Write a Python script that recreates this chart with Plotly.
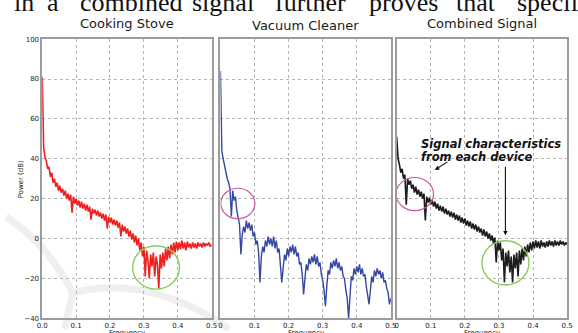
import numpy as np
import plotly.graph_objects as go

# ---------------- data ----------------
stove_db = [81, 46, 41, 39, 35, 36, 31, 33, 28, 30, 26, 28, 24, 26.5, 23, 25, 21.5, 24, 20, 22.5,
            19, 22, 13, 21, 17.5, 20, 16.5, 19, 15.5, 18.5, 15, 17.5, 14, 17, 13.5, 16, 9.5, 15, 12.5, 14.5,
            11.5, 14, 11, 13, 10, 12.5, 9, 12, 5, 11, 8, 10.5, 7, 9.5, 6.5, 9, 5.5, 8, 1, 7,
            3.5, 6, 2.5, 5, 1, 4, -0.5, 2.5, -2, 1.5, -3.5, 0, -6, -2, -9, -4, -19, -6, -11, -20,
            -8, -14, -7, -19, -9, -13, -25, -8, -15, -7, -14, -5, -11, -4, -10, -3, -8, -2, -7, -1.5,
            -6, -2, -5.5, -1, -5, -2, -6, -1.5, -4.5, -2.5, -5, -2, -4.5, -2.5, -5, -2, -4, -2.5, -4.5, -2,
            -4, -2.5, -3.5, -2, -4, -3]

vacuum_db = [84, 44, 40, 36, 33, 30, 28, 25, 11, 24, 19, 21, 14, 11, 7, -8,
             2, 6, 3, 9, 5, 8, 4, 7, 1, 3, -3, -1, -7,
             -22,
             -9, -4, -7, -1, -4, 1, -3, 0, -4, 1, -5, -1, -7, -5, -13,
             -22,
             -15, -8, -11, -5, -9, -4, -7, -3, -8, -4, -9, -7, -13, -12, -18,
             -28,
             -20, -13, -16, -10, -13, -9, -12, -8, -13, -9, -14, -12, -18, -21, -26,
             -34,
             -24, -16, -18, -12, -15, -11, -14, -10, -15, -12, -16, -14, -19, -20, -26, -30,
             -40,
             -27, -19, -21, -15, -18, -14, -17, -13, -18, -15, -19, -18, -24, -28,
             -33,
             -26, -19, -22, -16, -19, -15, -18, -16, -20, -17, -22, -21, -25, -27, -33,
             -30]

combined_db = [51, 40, 37, 33, 35, 30, 32, 17, 30, 27, 29, 25, 27, 23, 26, 22, 24.5, 21, 23.5, 20,
               22.5, 9, 21, 18, 20.5, 17, 19.5, 16, 18.5, 15, 17.5, 14, 16.5, 13.5, 16, 12.5, 15, 12, 14, 11,
               13.5, 10.5, 13, 9.5, 12, 9, 11.5, 8, 10.5, 7.5, 10, 6.5, 9, 6, 8.5, 5, 7.5, 4.5, 7, 3.5,
               6, 3, 5, 1.5, 4.5, 1, 3.5, 0, 2.5, -1, 1.5, -2.5, 0.5, -12, -1, -6, -2, -11, -5, -22,
               -7, -14, -6, -17, -9, -22, -8, -15, -7, -19, -6, -13, -5, -11, -4, -9, -3, -7, -2, -6,
               -1.5, -5, -1, -4.5, -1.5, -5, -1, -4, -2, -4.5, -1.5, -4, -1, -3.5, -1.5, -4, -1, -3.5, -1.5, -3.5,
               -1, -3, -1.5, -3.5, -2, -3]

panel_titles = ["Cooking Stove", "Vacuum Cleaner", "Combined Signal"]
y_ticks = [-40, -20, 0, 20, 40, 60, 80, 100]
x_ticks = [0.0, 0.1, 0.2, 0.3, 0.4, 0.5]
x_ticktext_first = ["0.0", "0.1", "0.2", "0.3", "0.4", "0.5"]
x_ticktext_rest = ["0", "0.1", "0.2", "0.3", "0.4", "0.5"]
note_lines = ["Signal characteristics", "from each device"]
top_words = ["in", "a", "combined", "signal", "further", "proves", "that", "specific"]

# ---------------- figure ----------------
W, H = 578, 333
def fx(px):
    return px / W
def fy(py):
    return 1 - py / H

series = [stove_db, vacuum_db, combined_db]
colors = ["#ee1f1f", "#3448a2", "#1c1c1c"]
widths = [1.6, 1.4, 1.6]
xdom = [(37, 210), (219, 393), (399, 573)]
ydom = [fy(322), fy(36)]

fig = go.Figure()
for i, vals in enumerate(series):
    freq = np.linspace(0, 0.5, len(vals))
    sfx = "" if i == 0 else str(i + 1)
    fig.add_trace(go.Scatter(x=freq, y=vals, mode="lines",
                             line=dict(color=colors[i], width=widths[i]),
                             xaxis="x" + sfx, yaxis="y" + sfx,
                             showlegend=False, hoverinfo="skip"))

axis_common = dict(showline=True, mirror=True, linecolor="#9c9c9c", linewidth=1.5,
                   showgrid=True, gridcolor="#b4b4b4", griddash="dot", gridwidth=0.7,
                   zeroline=False, ticks="",
                   tickfont=dict(family="DejaVu Sans", size=7, color="#222"))
layout = dict(width=W, height=H, margin=dict(l=0, r=0, t=0, b=0),
              paper_bgcolor="white", plot_bgcolor="rgba(0,0,0,0)", showlegend=False)
for i in range(3):
    sfx = "" if i == 0 else str(i + 1)
    layout["xaxis" + sfx] = dict(axis_common, domain=[fx(xdom[i][0]), fx(xdom[i][1])],
                                  range=[0, 0.5], anchor="y" + sfx,
                                  tickvals=x_ticks,
                                  ticktext=x_ticktext_first if i == 0 else x_ticktext_rest)
    layout["yaxis" + sfx] = dict(axis_common, domain=ydom, range=[-40, 100],
                                  anchor="x" + sfx, tickvals=y_ticks,
                                  showticklabels=(i == 0))
fig.update_layout(**layout)

ann = []
# panel titles
title_y = [20, 22, 20]
for i, t in enumerate(panel_titles):
    ann.append(dict(text=t, x=fx((xdom[i][0] + xdom[i][1]) / 2), y=fy(title_y[i]),
                    xref="paper", yref="paper", showarrow=False, xanchor="center", yanchor="middle",
                    font=dict(family="DejaVu Sans", size=13, color="#1a1a1a")))
# axis titles
ann.append(dict(text="Power (dB)", x=fx(15), y=fy(180), xref="paper", yref="paper",
                showarrow=False, textangle=-90, xanchor="center", yanchor="middle",
                font=dict(family="DejaVu Sans", size=7, color="#222")))
for i in range(3):
    ann.append(dict(text="Frequency", x=fx((xdom[i][0] + xdom[i][1]) / 2), y=fy(330.5),
                    xref="paper", yref="paper", showarrow=False, xanchor="center", yanchor="top",
                    font=dict(family="DejaVu Sans", size=7, color="#222")))
# top serif line (cut off)
word_x = [6, 40, 74, 188, 273, 369, 457, 520]
for w, xpx in zip(top_words, word_x):
    ann.append(dict(text=w, x=fx(xpx), y=fy(-2), xref="paper", yref="paper", showarrow=False,
                    xanchor="left", yanchor="middle",
                    font=dict(family="Liberation Serif", size=26, color="#111")))
# note text
for j, line in enumerate(note_lines):
    ann.append(dict(text="<b><i>" + line + "</i></b>", x=fx(422), y=fy(143.5 + 13 * j),
                    xref="paper", yref="paper", showarrow=False, xanchor="left", yanchor="middle",
                    font=dict(family="DejaVu Sans", size=11.5, color="#111")))
# arrows
ann.append(dict(text="", x=fx(438), y=fy(170), xref="paper", yref="paper", showarrow=True,
                ax=14, ay=-9, arrowhead=2, arrowsize=0.8, arrowwidth=1.1, arrowcolor="#111", standoff=0))
ann.append(dict(text="", x=fx(510), y=fy(237), xref="paper", yref="paper", showarrow=True,
                ax=0, ay=-70, arrowhead=2, arrowsize=0.8, arrowwidth=1.1, arrowcolor="#111", standoff=0))
fig.update_layout(annotations=ann)

# ellipses and faint watermark
shapes = [
    dict(type="circle", xref="x", yref="y", x0=0.267, x1=0.405, y0=-25.4, y1=-3.6,
         line=dict(color="#86cc5c", width=1.4)),
    dict(type="circle", xref="x2", yref="y2", x0=0.001, x1=0.101, y0=9.9, y1=25.2,
         line=dict(color="#c458a4", width=1.2)),
    dict(type="circle", xref="x3", yref="y3", x0=-0.002, x1=0.108, y0=14, y1=30.6,
         line=dict(color="#c458a4", width=1.2)),
    dict(type="circle", xref="x3", yref="y3", x0=0.25, x1=0.388, y0=-23.3, y1=-1.1,
         line=dict(color="#86cc5c", width=1.4)),
]
def ppath(cmds):
    out = []
    for c in cmds:
        if isinstance(c, str):
            out.append(c)
        else:
            out.append(f"{fx(c[0]):.5f},{fy(c[1]):.5f}")
    return " ".join(out)
wm = [
    ppath(["M", (0, 218), "Q", (42, 245), (68, 296)]),
    ppath(["M", (68, 296), "Q", (145, 276), (228, 333)]),
    ppath(["M", (68, 296), "L", (60, 333)]),
]
for p in wm:
    shapes.append(dict(type="path", path=p, xref="paper", yref="paper", layer="below",
                       line=dict(color="#efefef", width=7)))
fig.update_layout(shapes=shapes)

fig.write_html("out.html")
